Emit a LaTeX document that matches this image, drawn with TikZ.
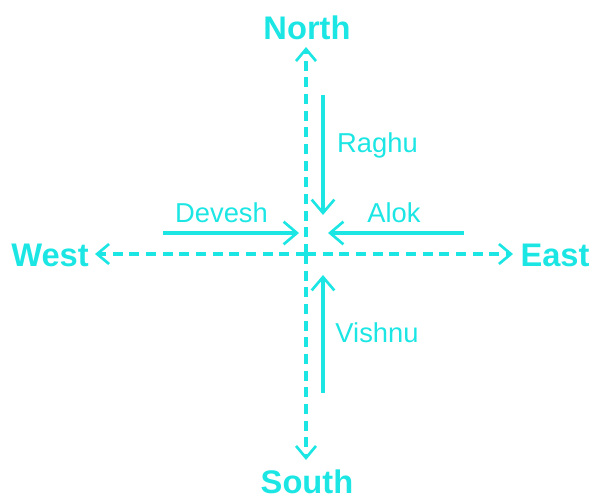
\documentclass[tikz,border=0pt]{standalone}
\usepackage{fontspec}
\setmainfont{Liberation Sans}
\usetikzlibrary{arrows.meta}
\definecolor{cy}{RGB}{28,230,228}
\begin{document}
\begin{tikzpicture}[x=0.75pt,y=-0.75pt,
  dir/.style={text=cy,font=\bfseries\fontsize{24.5}{28}\selectfont,inner sep=0pt},
  lab/.style={text=cy,font=\fontsize{20.5}{24}\selectfont,inner sep=0pt},
  axis/.style={draw=cy,line width=2.3pt,dash pattern=on 7.5pt off 5pt,-{Straight Barb[length=9pt,width=15pt,line width=2pt]}},
  mover/.style={draw=cy,line width=2.3pt,-{Straight Barb[length=10pt,width=17pt,line width=2pt]}}]
\useasboundingbox (0,0) rectangle (595,499);
\coordinate (O) at (306,254);
\node[dir] (north) at (307,28) {North};
\node[dir] (south) at (307,482) {South};
\node[dir] (west) at (50,255) {West};
\node[dir] (east) at (555,255) {East};
\coordinate (nt) at (306,47);
\coordinate (st) at (306,460);
\coordinate (wt) at (95,254);
\coordinate (et) at (513,254);
\draw[axis] (O) -- (nt);
\draw[axis] (O) -- (st);
\draw[axis] (O) -- (wt);
\draw[axis] (O) -- (et);
% movers
\coordinate (r1) at (323,95);   \coordinate (r2) at (323,215);
\coordinate (v1) at (323,393);  \coordinate (v2) at (323,275);
\coordinate (d1) at (163,233);  \coordinate (d2) at (299,233);
\coordinate (a1) at (464,233);  \coordinate (a2) at (328,233);
\draw[mover] (r1) -- (r2);
\draw[mover] (v1) -- (v2);
\draw[mover] (d1) -- (d2);
\draw[mover] (a1) -- (a2);
\node[lab] (raghu) at (377.5,145) {Raghu};
\node[lab] (vishnu) at (377,333) {Vishnu};
\node[lab] (devesh) at (221.5,213) {Devesh};
\node[lab] (alok) at (394,213) {Alok};
\end{tikzpicture}
\end{document}
